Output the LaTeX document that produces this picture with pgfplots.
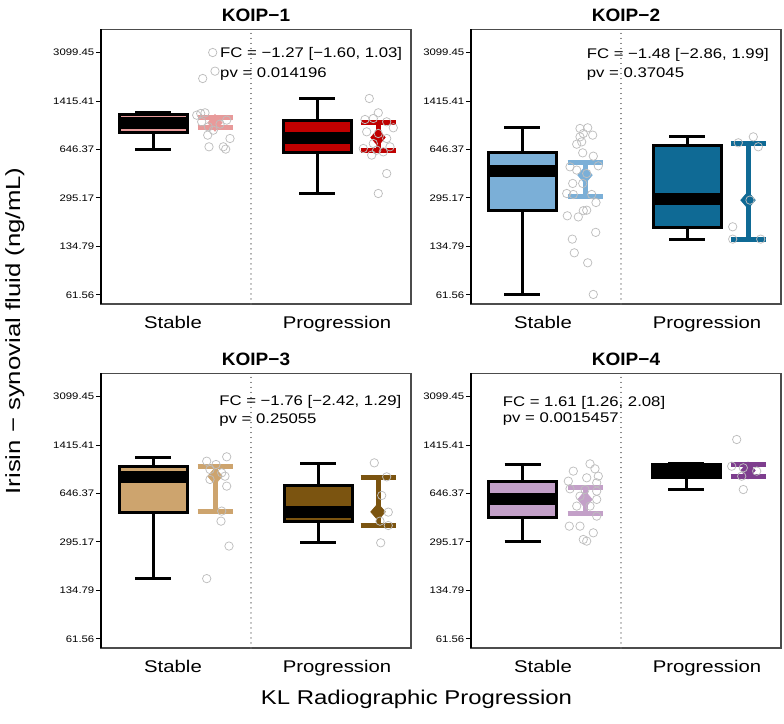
\documentclass[border=0pt]{standalone}
\usepackage{pgfplots}
\pgfplotsset{compat=1.18}
\usepackage{fontspec}
\setmainfont[FakeStretch=1.2]{Liberation Sans}
\newfontfamily\titlefont[FakeStretch=1.06]{Liberation Sans Bold}
\newfontfamily\ylabfont[FakeStretch=1.26]{Liberation Sans}

\definecolor{p1s}{HTML}{E89A9A}
\definecolor{p1p}{HTML}{C00000}
\definecolor{p2s}{HTML}{7BAFD7}
\definecolor{p2p}{HTML}{0F6A95}
\definecolor{p3s}{HTML}{CDA46E}
\definecolor{p3p}{HTML}{7B5410}
\definecolor{p4s}{HTML}{C3A0C8}
\definecolor{p4p}{HTML}{7E3E8E}
\definecolor{ptgray}{HTML}{BEBEBE}

\pgfplotsset{
 koip/.style={
  width=310bp, height=274.5bp, scale only axis,
  xmin=0, xmax=310, ymin=53.04, ymax=4505,
  ytick={61.56,134.79,295.17,646.37,1415.41,3099.45},
  yticklabels={61.56,134.79,295.17,646.37,1415.41,3099.45},
  yminorticks=false, ytick pos=left, xtick pos=bottom,
  xtick={72,236}, xticklabels={Stable,Progression},
  tick align=outside, major tick length=5bp,
  x tick style={draw=none},
  y tick style={black, line width=1bp},
  axis line style={draw=black!70, line width=1.2bp},
  yticklabel style={font=\fontsize{9.5}{10}\selectfont, inner sep=1.5bp},
  xticklabel style={font=\fontsize{17}{18}\selectfont, anchor=base, yshift=-19.3bp},
  title style={font=\titlefont\fontsize{18}{18}\selectfont, at={(0.5,1)}, anchor=base, yshift=2bp},
  clip=false,
 },
 pts/.style={only marks, mark=o, mark size=4.2bp, mark options={draw=ptgray, line width=0.75bp}},
 divline/.style={black!55, line width=1.3bp, line cap=round, dash pattern=on 0.01bp off 5bp},
}

% box: #1 fill, #2 centre x, #3 lower whisker, #4 Q1, #5 median, #6 Q3, #7 upper whisker
\newcommand\kbox[7]{%
 \pgfmathsetmacro\bxl{#2-34}\pgfmathsetmacro\bxr{#2+34}%
 \pgfmathsetmacro\bcl{#2-18}\pgfmathsetmacro\bcr{#2+18}%
 \addplot[black, line width=3bp] coordinates {(#2,#3)(#2,#4)};
 \addplot[black, line width=3bp] coordinates {(#2,#6)(#2,#7)};
 \addplot[black, line width=3bp] coordinates {(\bcl,#3)(\bcr,#3)};
 \addplot[black, line width=3bp] coordinates {(\bcl,#7)(\bcr,#7)};
 \addplot[fill=#1, draw=black, line width=3bp, line join=miter] coordinates {(\bxl,#4)(\bxr,#4)(\bxr,#6)(\bxl,#6)} -- cycle;
 \addplot[black, line width=12bp] coordinates {(\bxl,#5)(\bxr,#5)};
}
\newcommand\meanbar[7]{%
 \addplot[#1, line width=5bp] coordinates {(#3,#5)(#3,#7)};
 \addplot[#1, line width=5bp] coordinates {(#2,#5)(#4,#5)};
 \addplot[#1, line width=5bp] coordinates {(#2,#7)(#4,#7)};
 \addplot[only marks, mark=diamond*, mark size=8.5bp, mark options={fill=#1, draw=#1, line width=0.5bp, xscale=1.15}] coordinates {(#3,#6)};
}
\newcommand\fctext[5]{%
 \node[anchor=base west, inner sep=0, font=\fontsize{14}{15}\selectfont] at (axis description cs:#1,#2) {#4};
 \node[anchor=base west, inner sep=0, font=\fontsize{14}{15}\selectfont] at (axis description cs:#1,#3) {#5};
 \draw[black, line width=1.6bp] (axis description cs:0,0) -- (axis description cs:0,1);
}

\begin{document}
\begin{tikzpicture}
\path[use as bounding box] (0,0) rectangle (784bp,724bp);

% ---------------- KOIP-1 ----------------
\begin{semilogyaxis}[koip, at={(101bp,420bp)}, anchor=south west, title={KOIP−1}]
\addplot[divline] coordinates {(150,53.04)(150,4505)};
\kbox{p1s}{52.3}{650}{851}{995}{1138}{1170}
\kbox{p1p}{216}{317}{612}{776}{1039}{1466}
\meanbar{p1s}{96.5}{114}{131.5}{918}{995}{1085}
\meanbar{p1p}{259.5}{277}{294.5}{632}{785}{1005}
\addplot[pts] coordinates {(111.7,3104)(114,2295)(101.7,2038)(99.7,1157)(104,1170)(95.7,1126)(125.7,1039)(107.3,932)(112.3,883)(106.7,815)(129,772)(108,675)(122.3,675)(124.7,650)(100.7,1011)(119,974)};
\addplot[pts] coordinates {(268.3,1475)(277.3,1170)(264,1050)(272.3,1067)(285.7,1011)(292.3,918)(265.7,860)(277.3,837)(285.7,772)(272.3,712)(289,675)(262.3,657)(275.7,639)(282.3,622)(270.7,590)(285.7,438)(277.3,317)};
\fctext{0.384}{0.897}{0.824}{FC = −1.27 [−1.60, 1.03]}{pv = 0.014196}
\end{semilogyaxis}

% ---------------- KOIP-2 ----------------
\begin{semilogyaxis}[koip, at={(471bp,420bp)}, anchor=south west, title={KOIP−2}]
\addplot[divline] coordinates {(150,53.04)(150,4505)};
\kbox{p2s}{51}{61.56}{240}{455}{616}{918}
\kbox{p2p}{216}{151.5}{182}{288}{686}{793}
\meanbar{p2s}{96.5}{114}{131.5}{300.5}{426.7}{524}
\meanbar{p2p}{259.5}{277}{294.5}{151.5}{284.7}{712}
\addplot[pts] coordinates {(109,908)(116.7,918)(112.3,837)(121.7,815)(109,793)(110.7,731)(105.7,704)(111.7,612)(122.3,580)(127.3,496)(99,488)(105.7,463)(115.7,438)(101.7,373)(111.7,373)(95.7,317)(102.3,312)(120.7,312)(125,274)(115.7,242)(112.3,240)(107.3,217)(96.3,221)(124.7,169)(101.3,151.5)(103.3,121.4)(116.7,103.3)(122.3,61.9)};
\addplot[pts] coordinates {(282.3,793)(267.3,720)(287.3,675)(279,284.7)(261.7,185)(261.7,151.5)(289.7,151.5)};
\fctext{0.373}{0.893}{0.824}{FC = −1.48 [−2.86, 1.99]}{pv = 0.37045}
\end{semilogyaxis}

% ---------------- KOIP-3 ----------------
\begin{semilogyaxis}[koip, at={(101bp,76bp)}, anchor=south west, title={KOIP−3}]
\addplot[divline] coordinates {(150,53.04)(150,4505)};
\kbox{p3s}{52}{163}{478}{850}{1005}{1163}
\kbox{p3p}{217}{294}{413}{478}{739}{1050}
\meanbar{p3s}{96.5}{114}{131.5}{483}{855}{1005}
\meanbar{p3p}{259.5}{277}{294.5}{387}{480}{842}
\addplot[pts] coordinates {(105.7,1090)(115,1033)(125.7,1170)(109,953)(120.7,903)(109,811)(124,855)(125.7,728)(120.7,486)(120,413)(128,276)(105.7,163)};
\addplot[pts] coordinates {(273.3,1061)(285.7,846)(280.7,626)(287.3,478)(279,413)(287.3,385)(279.7,291)};
\fctext{0.381}{0.883}{0.817}{FC = −1.76 [−2.42, 1.29]}{pv = 0.25055}
\end{semilogyaxis}

% ---------------- KOIP-4 ----------------
\begin{semilogyaxis}[koip, at={(471bp,76bp)}, anchor=south west, title={KOIP−4}]
\addplot[divline] coordinates {(150,53.04)(150,4505)};
\kbox{p4s}{51.5}{299}{436}{587}{789}{1033}
\kbox{p4p}{215}{689}{842}{938}{1033}{1050}
\meanbar{p4s}{96.5}{114}{131.5}{465}{587}{708.5}
\meanbar{p4p}{259.5}{277}{294.5}{855}{938}{1033}
\addplot[pts] coordinates {(102.3,928)(119,1044)(124,963)(127.3,855)(97.3,789)(115.7,833)(125.7,768)(99,697)(114,689)(125.7,671)(109,619)(125.7,587)(105.7,527)(119,527)(125.7,448)(98.3,381)(109,381)(122.3,342)(112.3,307)(115.7,299)};
\addplot[pts] coordinates {(265.7,1548)(260.7,1005)(272.3,979)(272.3,689)(270.7,855)(285.7,928)};
\fctext{0.102}{0.881}{0.820}{FC = 1.61 [1.26, 2.08]}{pv = 0.0015457}
\end{semilogyaxis}

\node[rotate=90, anchor=base, inner sep=0, font=\ylabfont\fontsize{20.5}{21}\selectfont] at (20bp,393bp) {Irisin − synovial fluid (ng/mL)};
\node[anchor=base, inner sep=0, font=\fontsize{20}{21}\selectfont] at (416.5bp,19.7bp) {KL Radiographic Progression};
\end{tikzpicture}
\end{document}
